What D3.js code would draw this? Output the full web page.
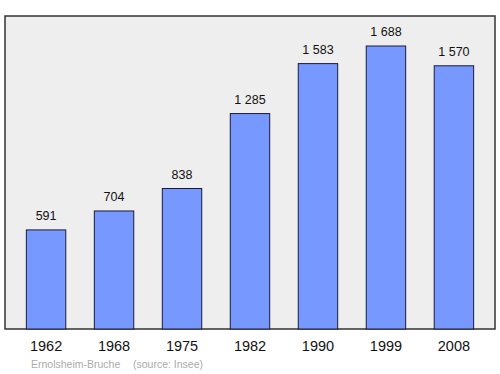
<!DOCTYPE html>
<html>
<head>
<meta charset="utf-8">
<script src="https://cdn.jsdelivr.net/npm/d3@7"></script>
<style>
  body { margin: 0; background: #fff; }
  text { font-family: "Liberation Sans", Arial, sans-serif; }
</style>
</head>
<body>
<div id="chart"></div>
<script>
// Population data
var years = ["1962", "1968", "1975", "1982", "1990", "1999", "2008"];
var population = [591, 704, 838, 1285, 1583, 1688, 1570];
var valueLabels = ["591", "704", "838", "1 285", "1 583", "1 688", "1 570"];

var width = 500, height = 374;
var frame = { left: 5, top: 16, right: 495, bottom: 329 };

var svg = d3.select("#chart").append("svg")
    .attr("width", width)
    .attr("height", height);

// Gray panel
svg.append("rect")
    .attr("x", frame.left)
    .attr("y", frame.top)
    .attr("width", frame.right - frame.left)
    .attr("height", frame.bottom - frame.top)
    .attr("fill", "#eeeeee")
    .attr("stroke", "#333333")
    .attr("stroke-width", 1.5);

// Scales
var x = d3.scaleBand()
    .domain(years)
    .range([frame.left + 3, frame.right - 3])
    .paddingInner(0.42)
    .paddingOuter(0.27);

var y = d3.scaleLinear()
    .domain([0, 1688])
    .range([frame.bottom, 46]);

var data = years.map(function(d, i) {
    return { year: d, value: population[i], label: valueLabels[i] };
});

// Bars
svg.selectAll(".bar")
    .data(data)
    .enter()
    .append("rect")
    .attr("class", "bar")
    .attr("x", function(d) { return x(d.year); })
    .attr("y", function(d) { return y(d.value); })
    .attr("width", x.bandwidth())
    .attr("height", function(d) { return frame.bottom - y(d.value); })
    .attr("fill", "#7799ff")
    .attr("stroke", "#1a1a3a")
    .attr("stroke-width", 1);

// Value labels
svg.selectAll(".value")
    .data(data)
    .enter()
    .append("text")
    .attr("class", "value")
    .attr("x", function(d) { return x(d.year) + x.bandwidth() / 2; })
    .attr("y", function(d) { return y(d.value) - 10; })
    .attr("text-anchor", "middle")
    .attr("font-size", "12.5px")
    .attr("fill", "#111")
    .text(function(d) { return d.label; });

// Bottom axis (labels only)
var xAxis = d3.axisBottom(x).tickSize(0).tickPadding(12);
var gx = svg.append("g")
    .attr("transform", "translate(0," + frame.bottom + ")")
    .call(xAxis);
gx.select(".domain").remove();
gx.selectAll("text")
    .attr("font-size", "14.5px")
    .attr("fill", "#111")
    .style("font-family", '"Liberation Sans", Arial, sans-serif');

// Footer
svg.append("text")
    .attr("x", 31)
    .attr("y", 368)
    .attr("font-size", "10.5px")
    .attr("fill", "#aaa")
    .text("Ernolsheim-Bruche");

svg.append("text")
    .attr("x", 133)
    .attr("y", 368)
    .attr("font-size", "10.5px")
    .attr("fill", "#aaa")
    .text("(source: Insee)");
</script>
</body>
</html>
